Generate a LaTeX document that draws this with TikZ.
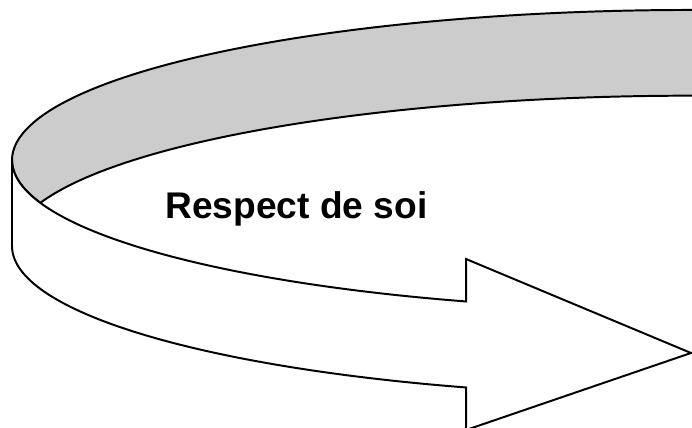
\documentclass[tikz,border=0pt]{standalone}
\usepackage{fontspec}
\setmainfont{Liberation Sans}
\begin{document}
\begin{tikzpicture}[x=0.025cm, y=0.025cm]
  \tikzset{Band/.style={draw=black, line width=1.4pt, line join=miter},
           BackStyle/.style={Band, fill=black!20},
           FrontStyle/.style={Band, fill=white},
           LabelStyle/.style={font=\bfseries\fontsize{26.4}{31}\selectfont, inner sep=0pt, anchor=base}}
  \clip (0,0) rectangle (692,428);
  \coordinate (TopC) at (692,268);
  \coordinate (BotC) at (692,182);
  \coordinate (HeadTop) at (466,169);
  \coordinate (Tip) at (691,75);
  \coordinate (HeadBot) at (466,-2);
  % back of the ribbon
  \path[BackStyle] ([shift={(80:680 and 150)}]TopC)
      arc[start angle=80, end angle=196.6, x radius=680, y radius=150]
      arc[start angle=163.4, end angle=80, x radius=680, y radius=150] -- cycle;
  % front of the ribbon with the arrow head
  \path[FrontStyle] ([shift={(180:680 and 150)}]TopC)
      arc[start angle=180, end angle=250.6, x radius=680, y radius=150]
      -- (HeadTop) -- (Tip) -- (HeadBot) -- ([shift={(250.6:680 and 150)}]BotC)
      arc[start angle=250.6, end angle=180, x radius=680, y radius=150] -- cycle;
  \node[LabelStyle] (respect) at (296.5,209.7) {Respect de soi};
\end{tikzpicture}
\end{document}
